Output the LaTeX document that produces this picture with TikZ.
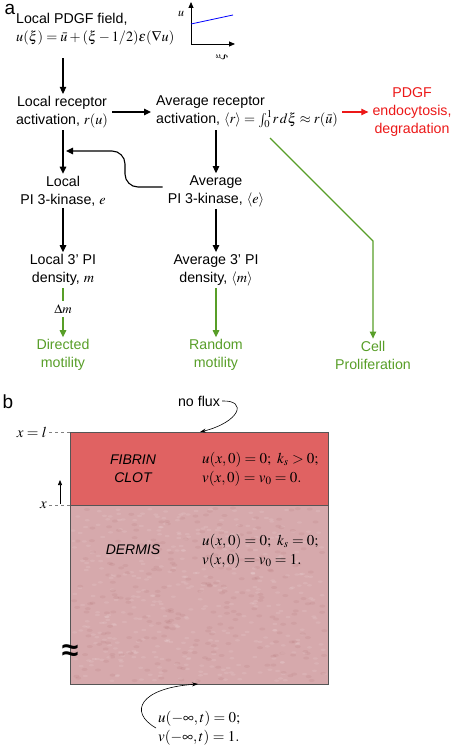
\documentclass[tikz,border=0pt]{standalone}
\usepackage{amsmath}
\usepackage{mathptmx}
\usepackage[no-math]{fontspec}
\setmainfont{Liberation Sans}
\usepackage{tikz}
\usetikzlibrary{arrows.meta}
\definecolor{pgreen}{RGB}{88,158,40}
\definecolor{pred}{RGB}{236,24,24}
\definecolor{clotred}{RGB}{224,98,98}
\definecolor{dermpink}{RGB}{214,169,172}
\definecolor{edgegray}{RGB}{85,85,85}

\begin{document}
\begin{tikzpicture}[x=1pt,y=-1pt,
  txt/.style={align=center,inner sep=2pt,font=\fontsize{14.2}{18}\selectfont},
  gtxt/.style={txt,text=pgreen},
  rtxt/.style={txt,text=pred},
  eq/.style={align=left,inner sep=2pt,font=\fontsize{15}{19}\selectfont},
  ital/.style={align=center,font=\fontsize{14}{18}\selectfont\itshape},
  arr/.style={line width=1.1pt,-{Triangle[length=7pt,width=6.5pt]}},
  garr/.style={arr,pgreen},
  rarr/.style={arr,pred},
  curv/.style={line width=0.6pt,-{Stealth[length=6pt,width=4pt]}}]
\useasboundingbox (0,0) rectangle (460,746);

% panel a
\node[font=\fontsize{19}{20}\selectfont] (lbla) at (10,9) {a};
\node[txt,anchor=west,align=left] (lpdgf) at (14,29) {Local PDGF field,\\$u(\xi)=\bar{u}+(\xi-1/2)\epsilon(\nabla u)$};

% little plot
\coordinate (org) at (191,44);
\coordinate (ytip) at (191,2);
\coordinate (xtip) at (235,44);
\draw[line width=0.8pt,-{Triangle[length=6pt,width=5pt]}] (org) -- (ytip);
\draw[line width=0.8pt,-{Triangle[length=6pt,width=5pt]}] (org) -- (xtip);
\draw[blue,line width=0.8pt] (191,24) -- (233,15);
\node[font=\fontsize{12}{12}\selectfont] (ulab) at (181,14) {$u$};
\node[font=\fontsize{12}{12}\selectfont,rotate=90] (xilab) at (222,57) {$\xi$};

\node[txt] (lrec) at (62,112) {Local receptor\\activation, $r(u)$};
\node[txt,anchor=west,align=left] (avgrec) at (154,112) {Average receptor\\activation, $\langle r\rangle=\textstyle\int_0^1\! r\,d\xi\approx r(\bar{u})$};
\node[rtxt] (pdgf) at (412,112) {PDGF\\endocytosis,\\degradation};

\node[txt] (lpi) at (63,191) {Local\\PI 3-kinase, $e$};
\node[txt] (avgpi) at (216,191) {Average\\PI 3-kinase, $\langle e\rangle$};
\node[txt] (lden) at (63,270) {Local 3' PI\\density, $m$};
\node[txt] (avgden) at (216,270) {Average 3' PI\\density, $\langle m\rangle$};
\node[font=\fontsize{13}{14}\selectfont] (dm) at (63,309) {$\Delta m$};

\node[gtxt] (dir) at (63,355) {Directed\\motility};
\node[gtxt] (rand) at (216,355) {Random\\motility};
\node[gtxt] (cell) at (373,355) {Cell\\Proliferation};

\draw[arr,shorten <=11pt] (lpdgf.south -| lpi.north) -- (lrec.north -| lpi.north);
\draw[arr,shorten <=2pt,shorten >=3pt] (lrec.east) -- (lrec.east -| avgrec.west);
\draw[rarr,shorten <=2pt,shorten >=2pt] (avgrec.east) -- (avgrec.east -| pdgf.west);
\draw[arr] (lrec.south -| lpi.north) -- (lpi.north);
\draw[arr] (avgrec.south -| avgpi.north) -- (avgpi.north);
\draw[arr] (lpi.south) -- (lden.north);
\draw[arr] (avgpi.south) -- (avgden.north);

% feedback from the average kinase
\coordinate (fbturn) at (125,151);
\coordinate (fbend) at (66,151);
\draw[arr,rounded corners=13pt,shorten <=3pt] ([yshift=4pt]avgpi.west) -| (fbturn) -- (fbend);

\draw[pgreen,line width=1.1pt] (lden.south) -- (dm.north);
\draw[garr] (dm.south) -- (dir.north);
\draw[garr] (avgden.south) -- (rand.north);
\coordinate (gstart) at (270,138);
\coordinate (gbend) at (373,241);
\draw[garr] (gstart) -- (gbend) -- (cell.north);

% panel b
\node[font=\fontsize{19}{20}\selectfont] (lblb) at (8,402) {b};
\coordinate (boxtl) at (70,432);
\coordinate (clotl) at (70,505);
\coordinate (topmid) at (200,432);
\coordinate (botmid) at (198,684);
\fill[dermpink] (70,505) rectangle (328,684);
\pgfmathsetseed{7}
\foreach \i in {1,...,420} {
  \pgfmathsetmacro{\px}{73+252*rnd}
  \pgfmathsetmacro{\py}{508+173*rnd}
  \fill[white,opacity=0.10] (\px,\py) ellipse (2.5pt and 1.2pt);
}
\foreach \i in {1,...,260} {
  \pgfmathsetmacro{\px}{73+252*rnd}
  \pgfmathsetmacro{\py}{508+173*rnd}
  \fill[black!60!red,opacity=0.05] (\px,\py) ellipse (3pt and 1.5pt);
}
\fill[clotred] (70,432) rectangle (328,505);
\draw[edgegray,line width=0.8pt] (70,432) rectangle (328,684);
\draw[edgegray,line width=0.8pt] (clotl) -- (328,505);

\node[eq,anchor=east] (xl) at (49,432) {$x=l$};
\node[eq,anchor=east] (xx) at (49,505) {$x$};
\draw[gray,dashed,line width=0.6pt] (xl.east) -- (boxtl);
\draw[gray,dashed,line width=0.6pt] (xx.east) -- (clotl);
\coordinate (xup0) at (60,504);
\coordinate (xup1) at (60,480);
\draw[line width=0.7pt,-{Triangle[length=5pt,width=4pt]}] (xup0) -- (xup1);

\node[ital] (fibrin) at (133,469) {FIBRIN\\CLOT};
\node[eq,anchor=west] (clotbc) at (200,469) {$u(x,0)=0;\ k_s>0;$\\$v(x,0)=v_0=0.$};
\node[ital] (dermis) at (133,550) {DERMIS};
\node[eq,anchor=west] (dermbc) at (200,551) {$u(x,0)=0;\ k_s=0;$\\$v(x,0)=v_0=1.$};
\node[font=\fontsize{30}{30}\selectfont\bfseries] (brk) at (70,653) {≈};

\node[txt] (noflux) at (199,401) {no flux};
\draw[curv] (noflux.east) .. controls (248,400) and (240,422) .. (topmid);
\node[eq,anchor=west] (farbc) at (156,728) {$u(-\infty,t)=0;$\\$v(-\infty,t)=1.$};
\draw[curv] (farbc.west) .. controls (128,712) and (140,688) .. (botmid);
\end{tikzpicture}
\end{document}
